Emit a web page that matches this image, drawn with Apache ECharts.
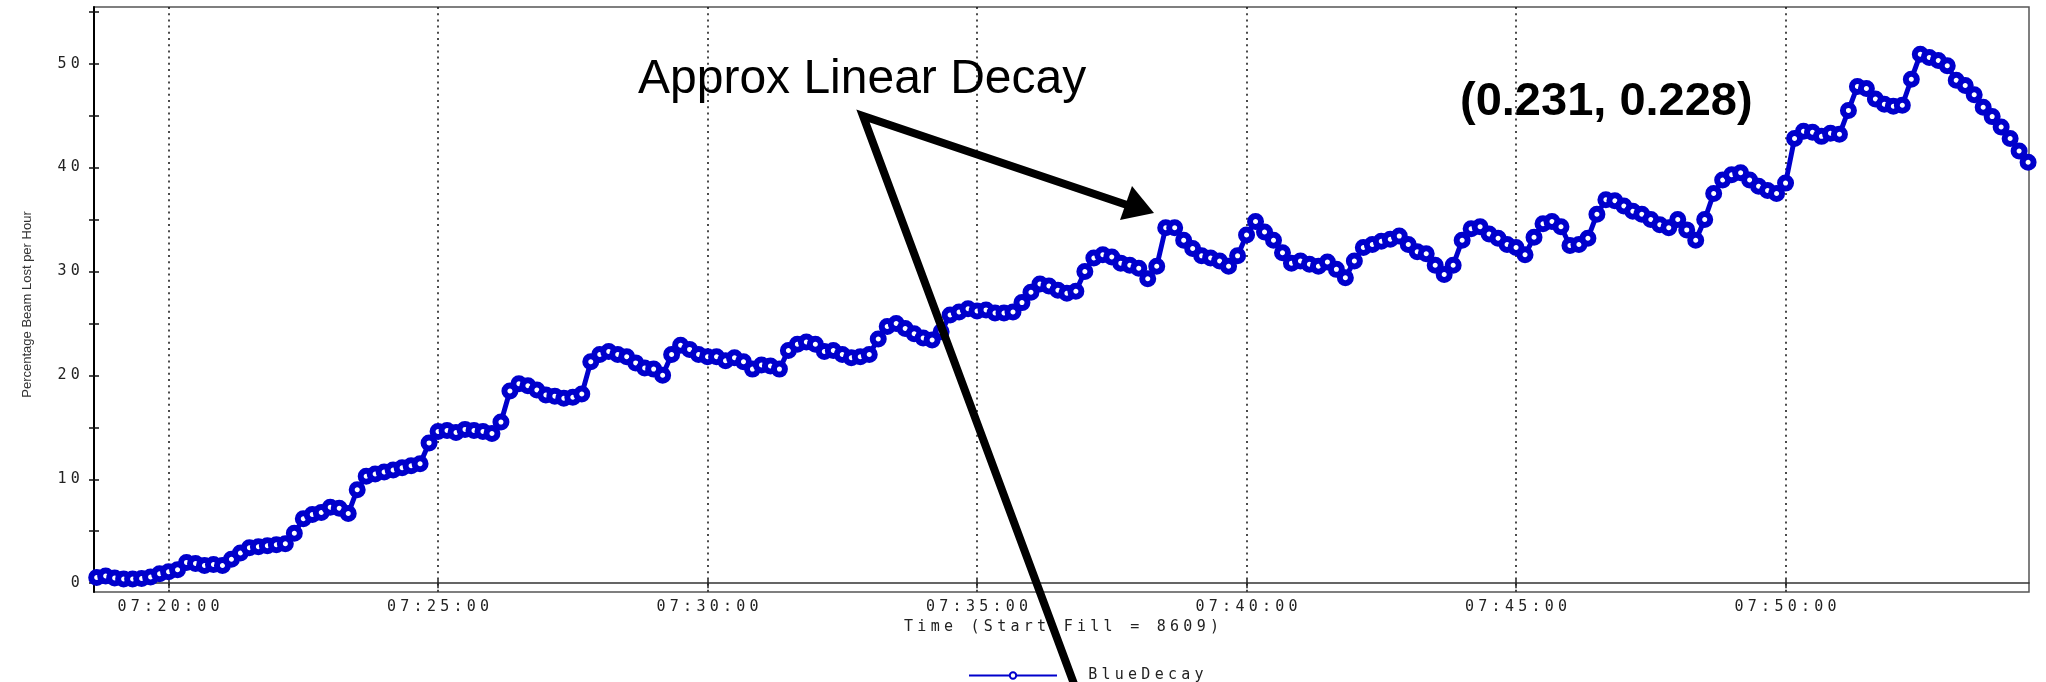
<!DOCTYPE html>
<html>
<head>
<meta charset="utf-8">
<title>BlueDecay</title>
<script src="https://cdn.jsdelivr.net/npm/echarts@6/dist/echarts.min.js"></script>
<style>
  html, body { margin: 0; padding: 0; background: #fff; }
  #main { width: 2046px; height: 682px; }
</style>
</head>
<body>
<div id="main"></div>
<script>
// samples every 10 s, first one at startTime
const startTime = '07:18:40';
const sampleStep = 10;
const blueDecay = [
  0.55, 0.7, 0.5, 0.4, 0.4, 0.45, 0.6, 0.9, 1.1, 1.3,
  2.0, 1.9, 1.7, 1.8, 1.7, 2.3, 2.9, 3.4, 3.5, 3.6,
  3.7, 3.8, 4.8, 6.2, 6.6, 6.8, 7.3, 7.2, 6.7, 9.0,
  10.3, 10.5, 10.7, 10.9, 11.1, 11.3, 11.5, 13.5, 14.6, 14.7,
  14.5, 14.8, 14.7, 14.6, 14.4, 15.5, 18.5, 19.2, 19.0, 18.6,
  18.1, 18.0, 17.8, 17.9, 18.2, 21.3, 22.0, 22.3, 22.0, 21.8,
  21.2, 20.7, 20.6, 20.0, 22.0, 22.9, 22.5, 22.0, 21.8, 21.8,
  21.4, 21.7, 21.3, 20.6, 21.0, 20.9, 20.6, 22.4, 23.0, 23.2,
  23.0, 22.3, 22.4, 22.0, 21.7, 21.8, 22.0, 23.5, 24.7, 25.0,
  24.5, 24.0, 23.6, 23.4, 24.2, 25.8, 26.1, 26.4, 26.2, 26.3,
  26.0, 26.0, 26.1, 27.0, 28.0, 28.8, 28.6, 28.2, 27.9, 28.1,
  30.0, 31.3, 31.6, 31.4, 30.8, 30.6, 30.3, 29.3, 30.5, 34.2,
  34.2, 33.0, 32.2, 31.5, 31.3, 31.0, 30.5, 31.5, 33.5, 34.8,
  33.8, 33.0, 31.8, 30.8, 31.0, 30.7, 30.5, 30.9, 30.2, 29.4,
  31.0, 32.3, 32.6, 32.9, 33.1, 33.4, 32.6, 31.9, 31.7, 30.6,
  29.7, 30.6, 33.0, 34.1, 34.3, 33.6, 33.2, 32.6, 32.3, 31.6,
  33.3, 34.6, 34.8, 34.3, 32.5, 32.6, 33.2, 35.5, 36.9, 36.8,
  36.3, 35.8, 35.5, 35.0, 34.5, 34.2, 35.0, 34.0, 33.0, 35.0,
  37.5, 38.8, 39.3, 39.5, 38.8, 38.2, 37.8, 37.5, 38.5, 42.8,
  43.5, 43.4, 43.0, 43.3, 43.2, 45.5, 47.8, 47.6, 46.6, 46.1,
  45.9, 46.0, 48.5, 50.9, 50.6, 50.3, 49.8, 48.4, 47.9, 47.0,
  45.8, 44.9, 43.9, 42.8, 41.6, 40.5
];

const xRange = ['07:18:37', '07:54:31'];
const xTickLabels = ['07:20:00', '07:25:00', '07:30:00', '07:35:00', '07:40:00', '07:45:00', '07:50:00'];
const yRange = [-0.85, 55.45];
const yTickLabels = [0, 10, 20, 30, 40, 50];
const yMinorTicks = [0, 5, 10, 15, 20, 25, 30, 35, 40, 45, 50, 55];

function toSec(hms) {
  const p = hms.split(':').map(Number);
  return p[0] * 3600 + p[1] * 60 + p[2];
}
function pad(n) { return (n < 10 ? '0' : '') + n; }
function toHms(s) {
  s = Math.round(s);
  return pad(Math.floor(s / 3600)) + ':' + pad(Math.floor(s / 60) % 60) + ':' + pad(s % 60);
}
// old plotting tool used a wide fixed-pitch font, so every char gets its own cell
function mono(str) {
  return String(str).split('').map(ch => '{m|' + ch + '}').join('');
}
const monoRich = {
  m: { width: 13.3, align: 'center', fontFamily: 'DejaVu Sans Mono', fontSize: 15, color: '#222' }
};

const t0 = toSec(startTime);
const points = blueDecay.map((v, i) => [t0 + i * sampleStep, v]);
const xTicks = xTickLabels.map(toSec);

const chart = echarts.init(document.getElementById('main'));

chart.setOption({
  animation: false,
  backgroundColor: '#fff',
  grid: {
    left: 94, right: 17, top: 7, bottom: 90,
    show: true, borderColor: '#555', borderWidth: 1.5,
    outerBoundsMode: 'none'
  },
  legend: {
    left: 963, top: 663,
    itemWidth: 88, itemHeight: 8,
    formatter: name => '{gap|}' + mono(name),
    textStyle: { rich: Object.assign({ gap: { width: 24 } }, monoRich) },
    data: ['BlueDecay']
  },
  xAxis: [
    {
      type: 'value',
      min: toSec(xRange[0]), max: toSec(xRange[1]),
      axisLine: { lineStyle: { color: '#333', width: 1.5 } },
      axisTick: { customValues: xTicks, length: 5, lineStyle: { color: '#222', width: 1.5 } },
      axisLabel: { customValues: xTicks, formatter: v => mono(toHms(v)), margin: 8, rich: monoRich },
      splitLine: { show: true, lineStyle: { color: '#111', width: 1.5, type: [2, 4.2] } },
      name: mono('Time (Start Fill = 8609)'),
      nameLocation: 'middle', nameGap: 25,
      nameTextStyle: { rich: monoRich }
    },
    {
      type: 'value',
      min: toSec(xRange[0]), max: toSec(xRange[1]),
      position: 'bottom',
      axisLine: { show: false },
      axisTick: { inside: true, customValues: xTicks, length: 4, lineStyle: { color: '#222', width: 1.5 } },
      axisLabel: { show: false },
      splitLine: { show: false }
    }
  ],
  yAxis: [
    {
      type: 'value',
      min: yRange[0], max: yRange[1],
      axisLine: { show: true, lineStyle: { color: '#000', width: 2 } },
      axisTick: { show: true, customValues: yMinorTicks, length: 5, lineStyle: { color: '#111', width: 1.5 } },
      axisLabel: { customValues: yTickLabels, formatter: v => mono(v), margin: 12, rich: monoRich },
      splitLine: { show: false },
      name: 'Percentage Beam Lost per Hour',
      nameLocation: 'middle', nameRotate: 90, nameGap: 60,
      nameTextStyle: {
        fontFamily: '"Liberation Sans Narrow", "Liberation Sans", sans-serif',
        fontSize: 13, color: '#333', padding: [0, 10, 0, 0]
      }
    },
    {
      type: 'value',
      min: yRange[0], max: yRange[1],
      position: 'left',
      axisLine: { show: false },
      axisTick: { show: true, inside: true, customValues: yMinorTicks, length: 5, lineStyle: { color: '#111', width: 1.5 } },
      axisLabel: { show: false },
      splitLine: { show: false }
    }
  ],
  series: [
    {
      name: 'BlueDecay',
      type: 'line',
      data: points,
      // 'emptyCircle' forces a 2px ring, so draw a white circle with a thick blue border
      symbol: 'circle',
      symbolSize: 11,
      showSymbol: true,
      showAllSymbol: true,
      itemStyle: { color: '#fff', borderColor: '#0000cc', borderWidth: 6 },
      lineStyle: { color: '#0000cc', width: 5 },
      emphasis: { disabled: true },
      z: 3
    }
  ],
  graphic: [
    {
      type: 'polyline', z: 100,
      shape: { points: [[1127, 205], [863, 116], [1080, 700]] },
      style: { stroke: '#000', lineWidth: 8, fill: null, lineJoin: 'miter' }
    },
    {
      type: 'polygon', z: 100,
      shape: { points: [[1154, 213], [1132, 186], [1120, 220]] },
      style: { fill: '#000' }
    },
    {
      type: 'text', z: 100, x: 638, y: 80,
      style: {
        text: 'Approx Linear Decay', fill: '#000',
        fontFamily: '"Liberation Sans", Arial, sans-serif', fontSize: 48,
        align: 'left', verticalAlign: 'middle'
      }
    },
    {
      type: 'text', z: 100, x: 1460, y: 102,
      style: {
        text: '(0.231, 0.228)', fill: '#000',
        fontFamily: '"Liberation Sans", Arial, sans-serif', fontSize: 47, fontWeight: 'bold',
        align: 'left', verticalAlign: 'middle'
      }
    }
  ]
});
</script>
</body>
</html>
